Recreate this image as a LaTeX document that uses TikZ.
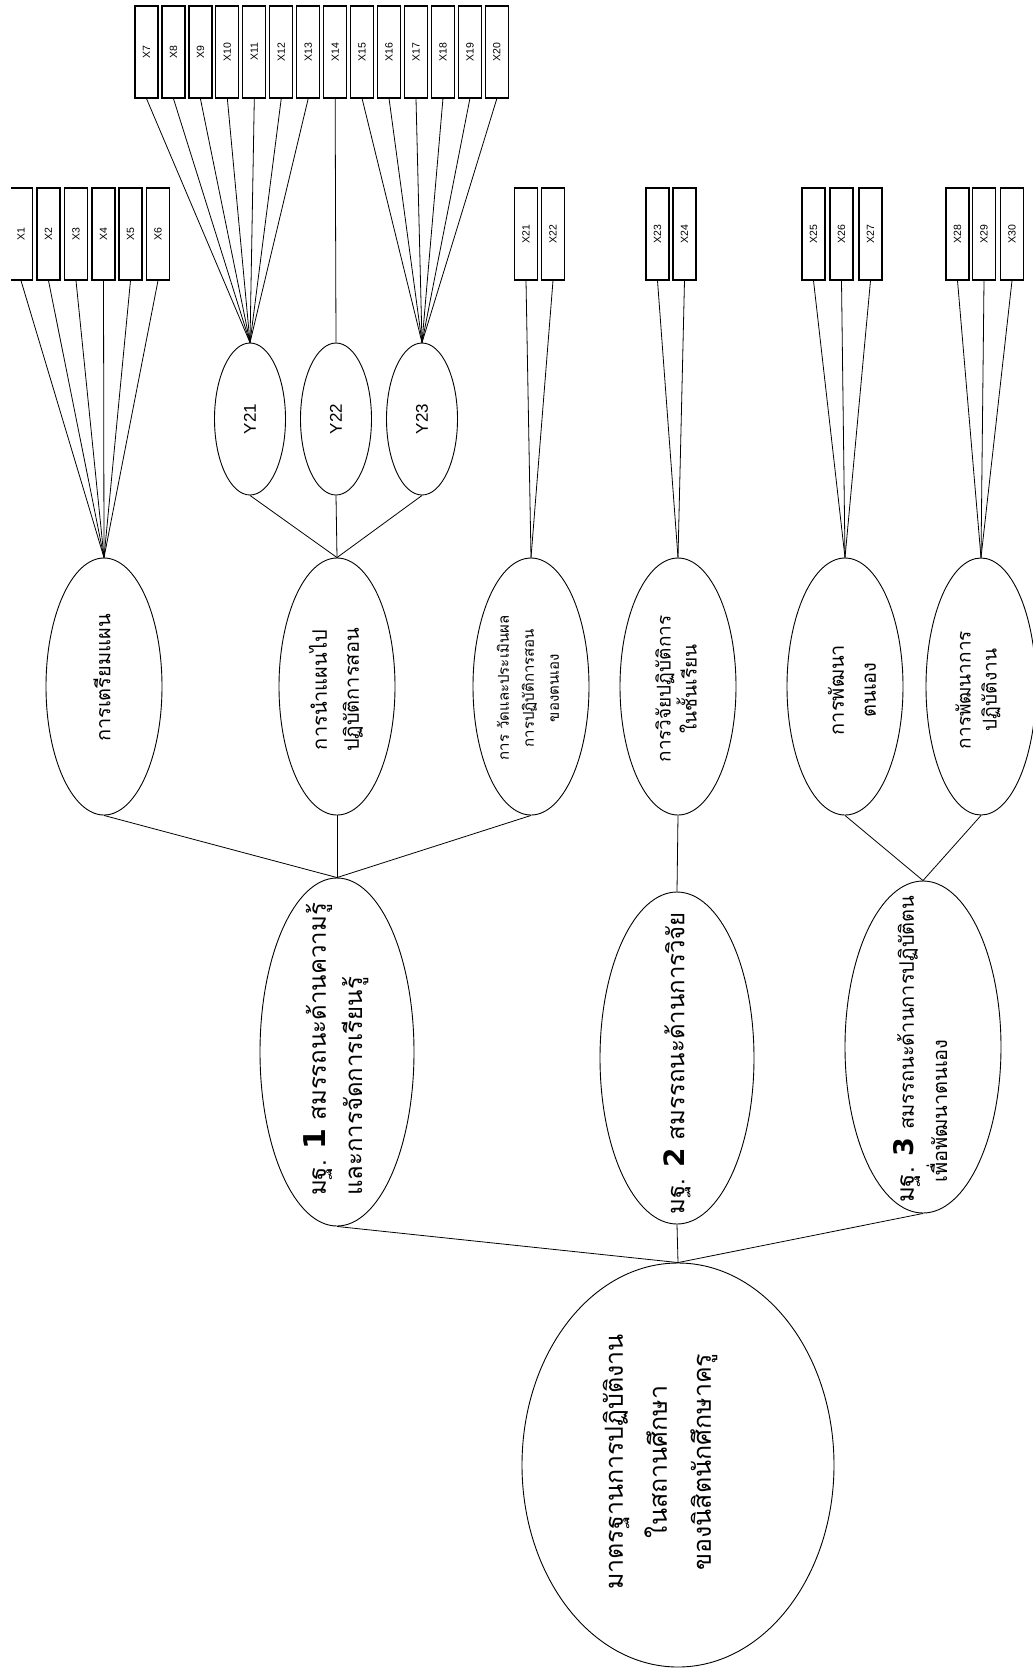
\documentclass[tikz,border=0pt]{standalone}
\usepackage{fontspec}
\newfontfamily\thai[Script=Thai]{Loma}
\newfontfamily\lat{Liberation Sans}
\newfontfamily\dig{DejaVu Sans}
\usetikzlibrary{shapes.geometric}
\begin{document}
\begin{tikzpicture}[x=1pt,y=-1pt,
  ell/.style={draw, ellipse, inner sep=0pt, line width=0.9pt, rotate=90},
  xbox/.style={draw, rectangle, inner sep=0pt, minimum width=92pt, minimum height=23pt, rotate=90, line width=1.2pt, font=\lat\fontsize{10.5}{12}\selectfont},
  yell/.style={ell, minimum width=152pt, minimum height=71pt, font=\lat\fontsize{17}{20}\selectfont},
  lvtwo/.style={ell, minimum width=257pt, minimum height=116pt},
  txt/.style={rotate=90, inner sep=0pt, align=center},
  ltxt/.style={rotate=90, inner sep=0pt, anchor=west},
  conn/.style={line width=0.8pt}
]
\fill[white] (0,0) rectangle (1033,1671);
\useasboundingbox (0,0) rectangle (1033,1671);
\clip (11,0) rectangle (1033,1671);

% X boxes
\foreach \i/\x in {1/21,2/48.5,3/76,4/103.5,5/130.5,6/158,21/526,22/553,23/657.5,24/684.5,25/813.5,26/841.5,27/870.5,28/957.5,29/984,30/1012}
  \node[xbox] (x\i) at (\x,234) {X\i};
\foreach \i in {7,...,20}{
  \pgfmathsetmacro\xx{146.5+(\i-7)*26.95}
  \node[xbox] (x\i) at (\xx,52) {X\i};
}

% ellipses
\node[ell, minimum width=404pt, minimum height=312pt] (root) at (678,1465) {};
\node[ell, minimum width=348pt, minimum height=154pt] (m1) at (337,1052) {};
\node[ell, minimum width=332pt, minimum height=154pt] (m2) at (677,1058) {};
\node[ell, minimum width=332pt, minimum height=156pt] (m3) at (923,1047) {};

\node[lvtwo] (a1) at (104,686.5) {};
\node[lvtwo] (a2) at (337,686.5) {};
\node[lvtwo] (a3) at (531,686.5) {};
\node[lvtwo] (a4) at (678,686.5) {};
\node[lvtwo] (a5) at (845,686.5) {};
\node[lvtwo, minimum height=110pt] (a6) at (981,686.5) {};

\node[yell] (y21) at (250,419) {Y21};
\node[yell] (y22) at (336,419) {Y22};
\node[yell] (y23) at (422,419) {Y23};

% texts
\node[txt, font=\thai\fontsize{25}{44}\selectfont] (roott) at (660,1462) {มาตรฐานการปฏิบัติงาน\\ในสถานศึกษา\\ของนิสิตนักศึกษาครู};

\node[ltxt, font=\thai\fontsize{24}{30}\selectfont] (m1ta) at (318,1196) {มฐ. {\dig\bfseries\fontsize{30}{30}\selectfont 1} สมรรถนะด้านความรู้};
\node[ltxt, font=\thai\fontsize{24}{30}\selectfont] (m1tb) at (355,1196) {และการจัดการเรียนรู้};

\node[txt, font=\thai\fontsize{24}{30}\selectfont] (m2t) at (677,1063) {มฐ. {\dig\bfseries\fontsize{28}{30}\selectfont 2} สมรรถนะด้านการวิจัย};

\node[ltxt, font=\thai\fontsize{24}{30}\selectfont] (m3ta) at (907,1203) {มฐ. {\dig\bfseries\fontsize{27}{30}\selectfont 3} {\fontsize{20}{24}\selectfont สมรรถนะด้านการปฏิบัติตน}};
\node[ltxt, font=\thai\fontsize{20}{24}\selectfont] (m3tb) at (937,1183) {เพื่อพัฒนาตนเอง};

\node[txt, font=\thai\fontsize{20}{32}\selectfont] (a1t) at (102,678) {การเตรียมแผน};
\node[txt, font=\thai\fontsize{20}{32}\selectfont] (a2t) at (336,690) {การนำแผนไป\\ปฏิบัติการสอน};
\node[txt, font=\thai\fontsize{15}{25}\selectfont] (a3t) at (528,688) {การ วัดและประเมินผล\\การปฏิบัติการสอน\\ของตนเอง};
\node[txt, font=\thai\fontsize{19}{26}\selectfont] (a4t) at (676,689) {การวิจัยปฏิบัติการ\\ในชั้นเรียน};
\node[txt, font=\thai\fontsize{20}{32}\selectfont] (a5t) at (852,690) {การพัฒนา\\ตนเอง};
\node[txt, font=\thai\fontsize{19}{26}\selectfont] (a6t) at (978,690) {การพัฒนาการ\\ปฏิบัติงาน};

% connectors
\foreach \c in {m1,m2,m3} \draw[conn] (root.east) -- (\c.west);
\foreach \c in {a1,a2,a3} \draw[conn] (m1.east) -- (\c.west);
\draw[conn] (m2.east) -- (a4.west);
\foreach \c in {a5,a6} \draw[conn] (m3.east) -- (\c.west);
\foreach \i in {1,...,6} \draw[conn] (a1.east) -- (x\i.west);
\foreach \c in {y21,y22,y23} \draw[conn] (a2.east) -- (\c.west);
\foreach \i in {7,...,13} \draw[conn] (y21.east) -- (x\i.west);
\draw[conn] (y22.east) -- (x14.west);
\foreach \i in {15,...,20} \draw[conn] (y23.east) -- (x\i.west);
\foreach \i in {21,22} \draw[conn] (a3.east) -- (x\i.west);
\foreach \i in {23,24} \draw[conn] (a4.east) -- (x\i.west);
\foreach \i in {25,26,27} \draw[conn] (a5.east) -- (x\i.west);
\foreach \i in {28,29,30} \draw[conn] (a6.east) -- (x\i.west);
\end{tikzpicture}
\end{document}
